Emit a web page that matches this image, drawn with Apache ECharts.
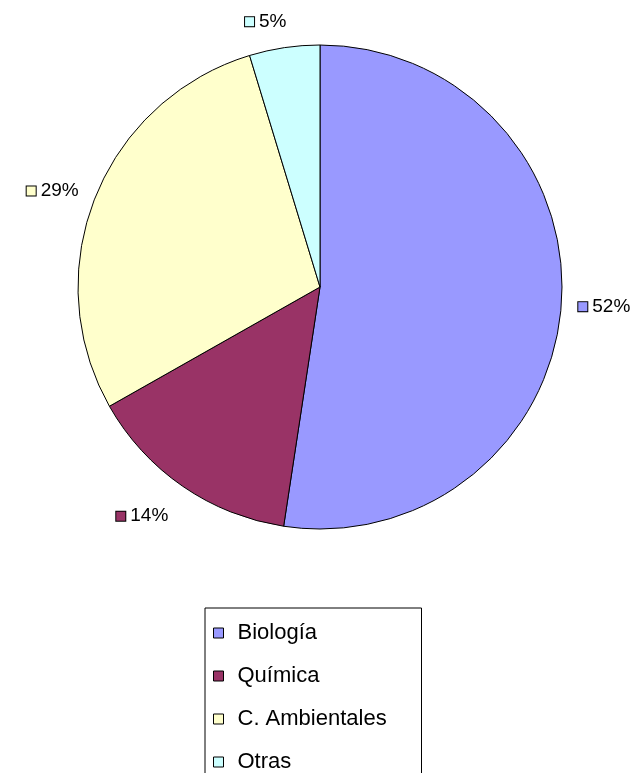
<!DOCTYPE html>
<html lang="es">
<head>
	<meta charset="UTF-8">
	<title>Pie</title>
	<style type="text/css">
		body { margin: 0; background: #fff; }
		#a { width: 636px; height: 773px; }
	</style>
</head>
<body>
	<div id="a"></div>
	<script type="text/javascript" src="https://cdn.jsdelivr.net/npm/echarts@6/dist/echarts.min.js"></script>
	<script type="text/javascript">
		// datos
		var categorias = ['Biología', 'Química', 'C. Ambientales', 'Otras'];
		var valores = [52.4, 14.4, 28.5, 4.7];
		var colores = ['#9999FF', '#993366', '#FFFFCC', '#CCFFFF'];
		// desplazamiento de cada etiqueta (estilo Excel)
		var ajusteEtiq = [[0, 1], [0, 25], [0, -4], [14, -20]];

		var myChart = echarts.init(document.getElementById('a'));

		var rich = { t: { fontSize: 19, fontFamily: 'Liberation Sans', color: '#000', padding: [0, 0, 0, 5] } };
		colores.forEach(function (c, i) {
			rich['s' + i] = { width: 9, height: 9, backgroundColor: c, borderColor: '#000', borderWidth: 1 };
		});

		var datos = categorias.map(function (n, i) {
			return { name: n, value: valores[i], itemStyle: { color: colores[i] } };
		});

		var option = {
			animation: false,
			legend: {
				orient: 'vertical',
				left: 205,
				top: 608,
				height: 400,
				padding: [14, 8, 11, 8],
				itemGap: 21,
				itemWidth: 10,
				itemHeight: 10,
				backgroundColor: '#fff',
				borderColor: '#000',
				borderWidth: 1,
				borderRadius: 0,
				icon: 'rect',
				itemStyle: { borderColor: '#000', borderWidth: 1 },
				textStyle: { fontSize: 22, lineHeight: 21, fontFamily: 'Liberation Sans', color: '#000', width: 176, padding: [0, 0, 0, 9] },
				data: categorias
			},
			series: [{
				type: 'pie',
				center: [320, 287],
				radius: 242,
				startAngle: 90,
				clockwise: true,
				itemStyle: { borderColor: '#000', borderWidth: 1 },
				label: {
					show: true,
					position: 'outside',
					formatter: function (p) {
						return '{s' + p.dataIndex + '|}{t|' + Math.round(p.percent) + '%}';
					},
					rich: rich
				},
				labelLine: { show: false, length: 6, length2: 6 },
				labelLayout: function (p) {
					var d = ajusteEtiq[p.dataIndex];
					return { dx: d[0], dy: d[1] };
				},
				emphasis: { disabled: true },
				data: datos
			}]
		};
		myChart.setOption(option);
	</script>
</body>
</html>
